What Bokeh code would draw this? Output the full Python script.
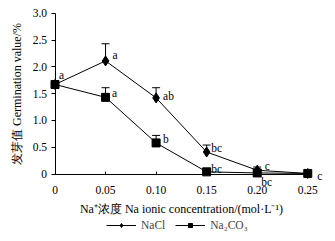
from bokeh.plotting import figure
from bokeh.models import (ColumnDataSource, Whisker, TeeHead, Label, Legend, LegendItem,
                          FixedTicker, Range1d)
from bokeh.embed import file_html
from bokeh.resources import INLINE

# ---- data ----
conc = [0, 0.05, 0.10, 0.15, 0.20, 0.25]
nacl = [1.67, 2.11, 1.42, 0.41, 0.07, 0.01]
nacl_err = [0.0, 0.32, 0.19, 0.13, 0.06, 0.0]
na2co3 = [1.67, 1.43, 0.58, 0.04, 0.02, 0.01]
na2co3_err = [0.0, 0.18, 0.14, 0.03, 0.03, 0.0]
nacl_sig = ["a", "a", "ab", "bc", "c", "c"]
na2co3_sig = ["", "a", "b", "bc", "bc", ""]
x_tick_labels = ["0", "0.05", "0.10", "0.15", "0.20", "0.25"]
y_ticks = [0, 0.5, 1.0, 1.5, 2.0, 2.5, 3.0]
y_tick_labels = ["0", "0.5", "1.0", "1.5", "2.0", "2.5", "3.0"]

# label offsets (px) for significance letters
nacl_off = [(4, 9), (7, 6), (7, 2), (4.5, 4.5), (7.5, 4), (9.5, -2.5)]
na2co3_off = [(0, 0), (6.5, 4.5), (7, 3.5), (4.5, 3), (4, -9), (0, 0)]

FONT = "Liberation Serif"

W, H = 335, 241
X0, XPX = 54.5, 1011.0     # pixel of x=0, pixels per unit
Y0, YPX = 173.5, 53.6      # pixel of y=0 (from top), pixels per unit
p = figure(width=W, height=H, output_backend="svg", toolbar_location=None,
           x_range=Range1d(-X0 / XPX, (W - X0) / XPX),
           y_range=Range1d(-(H - Y0) / YPX, Y0 / YPX),
           min_border_left=0, min_border_top=0, min_border_right=0, min_border_bottom=0)
p.outline_line_color = None
p.grid.visible = False

def upper(v, e):
    return [a + b for a, b in zip(v, e)]

s1 = ColumnDataSource(dict(x=conc, y=nacl, up=upper(nacl, nacl_err)))
s2 = ColumnDataSource(dict(x=conc, y=na2co3, up=upper(na2co3, na2co3_err)))

for s in (s1, s2):
    w = Whisker(source=s, base="x", upper="up", lower="y",
                upper_head=TeeHead(size=8, line_color="black", line_width=1),
                lower_head=None, line_color="black", line_width=1)
    p.add_layout(w)

l1 = p.line("x", "y", source=s1, line_color="black", line_width=1)
m1 = p.scatter("x", "y", source=s1, marker="diamond", size=10, color="black")
l2 = p.line("x", "y", source=s2, line_color="black", line_width=1)
m2 = p.scatter("x", "y", source=s2, marker="square", size=8, color="black")

for xs, ys, txt, offs in ((conc, nacl, nacl_sig, nacl_off), (conc, na2co3, na2co3_sig, na2co3_off)):
    for xv, yv, t, (dx, dy) in zip(xs, ys, txt, offs):
        if t:
            p.add_layout(Label(x=xv, y=yv, text=t, x_offset=dx, y_offset=dy,
                               text_font=FONT, text_font_size="11.5px",
                               text_baseline="middle", text_align="left", text_color="black"))

# axes
xa = p.xaxis[0]
xa.fixed_location = 0
xa.ticker = FixedTicker(ticks=conc)
xa.major_label_overrides = {v: t for v, t in zip(conc, x_tick_labels)}
xa.bounds = (0, 0.253)
xa.major_tick_in = 3
xa.major_tick_out = 0
xa.minor_tick_line_color = None
xa.major_label_standoff = 12
xa.axis_label = "Na⁺浓度  Na ionic concentration/(mol·L⁻¹)"
xa.axis_label_standoff = 4

ya = p.yaxis[0]
ya.fixed_location = 0
ya.ticker = FixedTicker(ticks=y_ticks)
ya.major_label_overrides = {v: t for v, t in zip(y_ticks, y_tick_labels)}
ya.bounds = (0, 3.0)
ya.major_tick_in = 0
ya.major_tick_out = 4
ya.minor_tick_line_color = None
ya.major_label_standoff = 4
ya.axis_label = "发芽值 Germination value/%"
ya.axis_label_standoff = 6

for ax in (xa, ya):
    ax.axis_line_color = "black"
    ax.major_tick_line_color = "black"
    ax.major_label_text_font = FONT
    ax.major_label_text_font_size = "11.5px"
    ax.major_label_text_color = "black"
    ax.axis_label_text_font = FONT
    ax.axis_label_text_font_size = "12px"
    ax.axis_label_text_font_style = "normal"
    ax.axis_label_text_color = "black"

legend = Legend(items=[LegendItem(label="NaCl", renderers=[l1, m1]),
                       LegendItem(label="Na₂CO₃", renderers=[l2, m2])],
                orientation="horizontal", location=(106, 10),
                label_text_font=FONT, label_text_font_size="11.5px",
                glyph_width=30, glyph_height=10, label_standoff=5, spacing=10,
                padding=2, margin=0, border_line_color=None, background_fill_alpha=0)
p.add_layout(legend, "center")

open("out.html", "w").write(file_html(p, INLINE))
